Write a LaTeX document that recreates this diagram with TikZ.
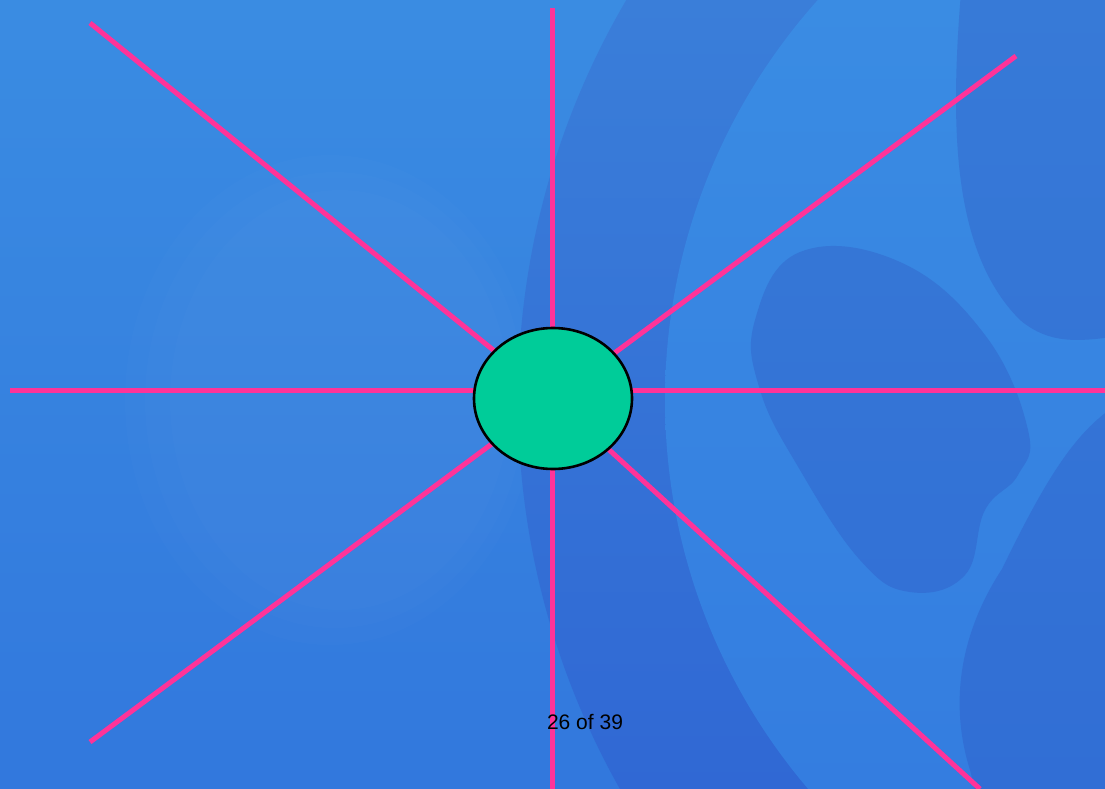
\documentclass[tikz,border=0pt]{standalone}
\usepackage{fontspec}
\setmainfont{Liberation Sans}
\usetikzlibrary{shapes.geometric}
\pgfdeclarelayer{bg}
\pgfdeclarelayer{spokes}
\pgfsetlayers{bg,spokes,main}
\definecolor{bgtop}{HTML}{3A8CE2}
\definecolor{bgbot}{HTML}{3278DD}
\definecolor{rimtop}{HTML}{3A7ED9}
\definecolor{rimbot}{HTML}{3068D4}
\definecolor{ringtop}{HTML}{3A8CE3}
\definecolor{ringbot}{HTML}{347DE0}
\definecolor{holetop}{HTML}{377AD7}
\definecolor{holebot}{HTML}{316ED5}
\definecolor{ray}{HTML}{FF3399}
\definecolor{hub}{HTML}{00CC99}
\tikzset{
  rayline/.style={draw=ray, line width=5pt},
  hubnode/.style={ellipse, draw=black, line width=2.6pt, fill=hub,
    minimum width=158pt, minimum height=141pt, inner sep=0pt},
  pagelabel/.style={font=\fontsize{21}{25}\selectfont, text=black, inner sep=0pt},
  glow/.style={fill=white, opacity=0.012}
}
\begin{document}
\begin{tikzpicture}[x=1pt,y=-1pt]
\useasboundingbox (0,0) rectangle (1105,789);
\begin{pgfonlayer}{bg}
  \shade[top color=bgtop, bottom color=bgbot] (0,0) rectangle (1105,789);
  \fill[glow] (330,400) ellipse [x radius=205, y radius=245];
  \fill[glow] (335,400) ellipse [x radius=190, y radius=228];
  \fill[glow] (340,400) ellipse [x radius=170, y radius=210];
  \begin{scope}
    \clip (0,0) rectangle (1105,789);
    \begin{scope}
      \clip (1310,400) circle [radius=792];
      \shade[top color=rimtop, bottom color=rimbot] (0,0) rectangle (1105,789);
    \end{scope}
    \begin{scope}
      \clip (1265,400) circle [radius=600];
      \shade[top color=ringtop, bottom color=ringbot] (0,0) rectangle (1105,789);
    \end{scope}
    \begin{scope}
      \clip plot[smooth cycle, tension=0.7] coordinates {(755,320) (800,252) (900,262) (985,335) (1028,430) (1018,475) (985,510) (965,575) (910,592) (860,560) (800,470) (760,390)}
        (962,-20) .. controls (950,120) and (950,250) .. (1020,320) .. controls (1050,345) and (1080,342) .. (1125,335) -- (1125,-20) -- cycle
        (1125,400) .. controls (1080,425) and (1050,470) .. (1002,569) .. controls (962,630) and (948,700) .. (970,770) -- (980,810) -- (1125,810) -- cycle;
      \shade[top color=holetop, bottom color=holebot] (0,0) rectangle (1105,789);
    \end{scope}
  \end{scope}
\end{pgfonlayer}

\node[hubnode] (c) at (553,398.5) {};

\coordinate (nw) at (90,23);
\coordinate (ne) at (1016,56);
\coordinate (sw) at (90,742);
\coordinate (se) at (980,789);
\coordinate (n) at (552,8);
\coordinate (s) at (552,789);
\coordinate (w) at (10,390);
\coordinate (e) at (1105,390);

\begin{pgfonlayer}{spokes}
  \draw[rayline] (n) -- (s);
  \draw[rayline] (w) -- (e);
  \draw[rayline] (nw) -- (c.center);
  \draw[rayline] (ne) -- (c.center);
  \draw[rayline] (sw) -- (c.center);
  \draw[rayline] (se) -- (c.center);
\end{pgfonlayer}

\node[pagelabel] (pg) at (585,722) {26 of 39};
\end{tikzpicture}
\end{document}
